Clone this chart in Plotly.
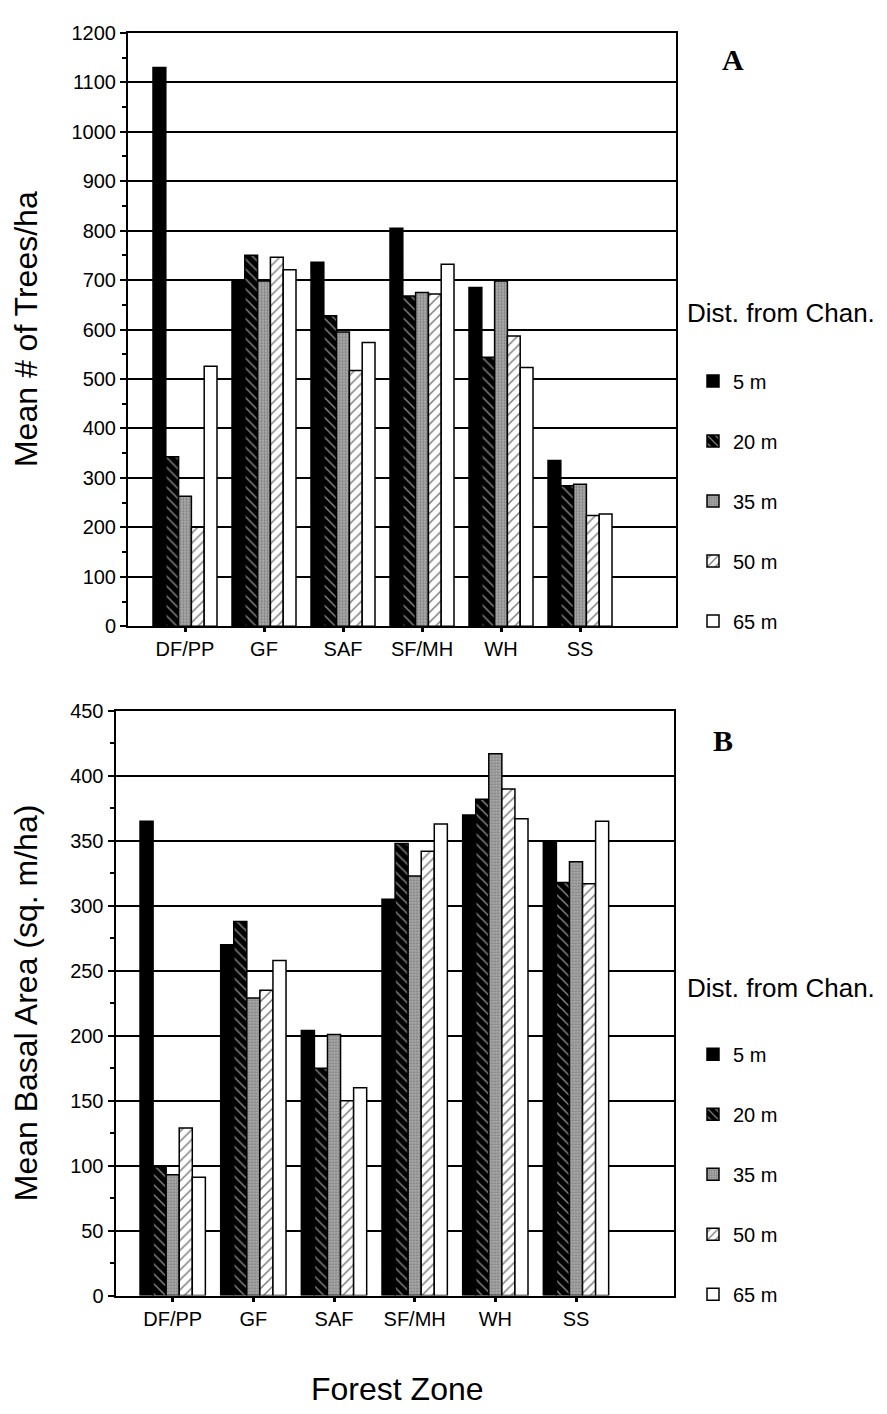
import plotly.graph_objects as go

# ---------------- data ----------------
zones = ["DF/PP", "GF", "SAF", "SF/MH", "WH", "SS"]
dists = ["5 m", "20 m", "35 m", "50 m", "65 m"]

# Panel A: mean number of trees per ha
trees_5m = [1130, 700, 736, 805, 685, 335]
trees_20m = [343, 750, 628, 668, 544, 284]
trees_35m = [263, 698, 595, 675, 698, 287]
trees_50m = [200, 746, 517, 672, 587, 224]
trees_65m = [526, 721, 574, 732, 523, 227]

# Panel B: mean basal area (sq. m/ha)
basal_5m = [365, 270, 204, 305, 370, 350]
basal_20m = [99, 288, 175, 348, 382, 318]
basal_35m = [93, 229, 201, 323, 417, 334]
basal_50m = [129, 235, 150, 342, 390, 317]
basal_65m = [91, 258, 160, 363, 367, 365]

trees = [trees_5m, trees_20m, trees_35m, trees_50m, trees_65m]
basal = [basal_5m, basal_20m, basal_35m, basal_50m, basal_65m]

# ---------------- page geometry ----------------
PAGE_W, PAGE_H = 887, 1414
OFF = 8                      # default body margin of the html page
W, H = PAGE_W - 2 * OFF, PAGE_H - 2 * OFF
FONT = "Liberation Sans, Arial, Helvetica, sans-serif"
SERIF = "Liberation Serif, Times New Roman, serif"


def px_x(p):
    return (p - OFF) / W


def px_y(p):
    return 1 - (p - OFF) / H


outline = dict(color="black", width=1.5)
markers = [
    dict(color="black", line=outline),
    dict(color="black", line=outline,
         pattern=dict(shape="\\", fgcolor="white", bgcolor="black", size=7, solidity=0.22)),
    dict(color="#a0a0a0", line=outline,
         pattern=dict(shape=".", fgcolor="#555555", bgcolor="#adadad", size=3, solidity=0.45)),
    dict(color="white", line=outline,
         pattern=dict(shape="/", fgcolor="black", bgcolor="white", size=7, solidity=0.22)),
    dict(color="white", line=outline),
]

fig = go.Figure()
for name, vals, mk in zip(dists, trees, markers):
    fig.add_trace(go.Bar(x=zones, y=vals, name=name, marker=mk,
                         xaxis="x", yaxis="y", legend="legend",
                         legendgroup="A" + name))
for name, vals, mk in zip(dists, basal, markers):
    fig.add_trace(go.Bar(x=zones, y=vals, name=name, marker=mk,
                         xaxis="x2", yaxis="y2", legend="legend2",
                         legendgroup="B" + name))

common_x = dict(type="category", showline=True, mirror=True, linecolor="black",
                linewidth=2, ticks="outside", ticklen=4, tickwidth=3,
                tickcolor="black", showgrid=False, tickfont=dict(size=20))
common_y = dict(showgrid=True, gridcolor="black", gridwidth=1.5, showline=True,
                mirror=True, linecolor="black", linewidth=2, ticks="outside",
                ticklen=6, tickwidth=2, tickcolor="black", zeroline=False,
                tickfont=dict(size=20), tick0=0)

legend_common = dict(xanchor="left", yanchor="top", font=dict(size=20),
                     bgcolor="rgba(0,0,0,0)", tracegroupgap=31, itemwidth=30,
                     traceorder="grouped")


def ann(text, x, y, size, family=FONT, angle=0, xanchor="center"):
    return dict(text=text, x=px_x(x), y=px_y(y), xref="paper", yref="paper",
                showarrow=False, textangle=angle, xanchor=xanchor, yanchor="middle",
                font=dict(family=family, size=size, color="black"))


fig.update_layout(
    width=W, height=H,
    margin=dict(l=0, r=0, t=0, b=0),
    paper_bgcolor="white", plot_bgcolor="white",
    font=dict(family=FONT, size=20, color="black"),
    barmode="group", bargap=0.19, bargroupgap=0,
    xaxis=dict(common_x, domain=[px_x(128), px_x(676)], anchor="y",
               range=[-0.7215, 6.215]),
    yaxis=dict(common_y, domain=[px_y(625), px_y(22)], anchor="x",
               range=[0, 1200], dtick=100,
               minor=dict(dtick=50, ticks="outside", ticklen=4, tickwidth=1.5,
                          tickcolor="black", showgrid=False)),
    xaxis2=dict(common_x, domain=[px_x(115.5), px_x(674)], anchor="y2",
                range=[-0.709, 6.215]),
    yaxis2=dict(common_y, domain=[px_y(1305), px_y(711)], anchor="x2",
                range=[0, 450], dtick=50,
                minor=dict(dtick=25, ticks="outside", ticklen=4, tickwidth=1.5,
                           tickcolor="black", showgrid=False)),
    legend=dict(legend_common, x=px_x(693), y=px_y(356)),
    legend2=dict(legend_common, x=px_x(693), y=px_y(1040)),
    annotations=[
        ann("<b>A</b>", 733, 49, 30, SERIF),
        ann("<b>B</b>", 723, 741, 30, SERIF),
        ann("Dist. from Chan.", 685, 307, 26, xanchor="left"),
        ann("Dist. from Chan.", 685, 992, 26, xanchor="left"),
        ann("Mean # of Trees/ha", 26, 323, 32, angle=-90),
        ann("Mean Basal Area (sq. m/ha)", 26, 1008, 32, angle=-90),
        ann("Forest Zone", 397, 1400, 32),
    ],
)

fig.write_html("out.html")
